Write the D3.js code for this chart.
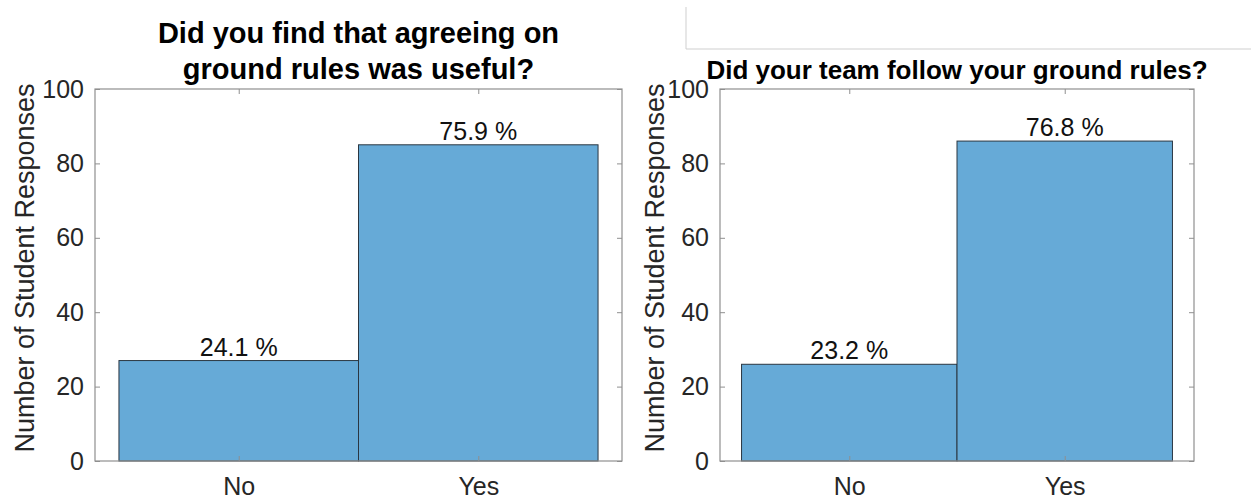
<!DOCTYPE html>
<html>
<head>
<meta charset="utf-8">
<script src="https://cdn.jsdelivr.net/npm/d3@7"></script>
<style>
  body { margin: 0; background: #fff; }
  text { font-family: "Liberation Sans", Arial, Helvetica, sans-serif; }
</style>
</head>
<body>
<div id="chartContainer"></div>
<script>
var categories = ["No", "Yes"];
var usefulCounts = [27, 85];
var followedCounts = [26, 86];
var yTicks = [0, 20, 40, 60, 80, 100];
var usefulTitle = ["Did you find that agreeing on", "ground rules was useful?"];
var followedTitle = ["Did your team follow your ground rules?"];
var yLabel = "Number of Student Responses";

function drawPanel(svg, opt) {
    var x = d3.scaleLinear().domain([0.4, 2.6]).range([opt.left, opt.right]);
    var y = d3.scaleLinear().domain([0, 100]).range([opt.bottom, opt.top]);
    var total = d3.sum(opt.counts);
    var fmt = d3.format(".1f");
    var g = svg.append("g");

    // bars (histogram style, touching)
    g.selectAll("rect.bar")
        .data(opt.counts)
        .enter()
        .append("rect")
        .attr("class", "bar")
        .attr("x", function(d, i) { return x(i + 0.5); })
        .attr("width", function(d, i) { return x(i + 1.5) - x(i + 0.5); })
        .attr("y", function(d) { return y(d); })
        .attr("height", function(d) { return y(0) - y(d); })
        .attr("fill", "#66aad7")
        .attr("stroke", "#2a3641")
        .attr("stroke-width", 1);

    // percent labels
    g.selectAll("text.pct")
        .data(opt.counts)
        .enter()
        .append("text")
        .attr("class", "pct")
        .attr("x", function(d, i) { return x(i + 1); })
        .attr("y", function(d) { return y(d) - 5; })
        .attr("text-anchor", "middle")
        .attr("font-size", 25)
        .attr("fill", "#111")
        .text(function(d) { return fmt(d / total * 100) + " %"; });

    // box
    g.append("rect")
        .attr("x", opt.left)
        .attr("y", opt.top)
        .attr("width", opt.right - opt.left)
        .attr("height", opt.bottom - opt.top)
        .attr("fill", "none")
        .attr("stroke", "#8f8f8f")
        .attr("stroke-width", 1.2);

    // y ticks inside on both sides
    var yAxisL = d3.axisLeft(y).tickValues(yTicks).tickSizeInner(-5).tickSizeOuter(0).tickPadding(11);
    var gy = g.append("g").attr("transform", "translate(" + opt.left + ",0)").call(yAxisL);
    gy.select(".domain").remove();
    gy.selectAll("line").attr("stroke", "#8f8f8f");
    gy.selectAll("text").attr("font-size", 25).attr("fill", "#262626")
        .style("font-family", '"Liberation Sans", Arial, sans-serif');

    var yAxisR = d3.axisRight(y).tickValues(yTicks).tickSizeInner(-5).tickSizeOuter(0).tickFormat("");
    var gyr = g.append("g").attr("transform", "translate(" + opt.right + ",0)").call(yAxisR);
    gyr.select(".domain").remove();
    gyr.selectAll("line").attr("stroke", "#8f8f8f");

    // x ticks at categories, bottom and top
    var xAxisB = d3.axisBottom(x).tickValues([1, 2]).tickSizeInner(-5).tickSizeOuter(0)
        .tickPadding(16).tickFormat(function(d) { return categories[d - 1]; });
    var gx = g.append("g").attr("transform", "translate(0," + opt.bottom + ")").call(xAxisB);
    gx.select(".domain").remove();
    gx.selectAll("line").attr("stroke", "#8f8f8f");
    gx.selectAll("text").attr("font-size", 25).attr("fill", "#262626")
        .style("font-family", '"Liberation Sans", Arial, sans-serif');

    var xAxisT = d3.axisTop(x).tickValues([1, 2]).tickSizeInner(-5).tickSizeOuter(0).tickFormat("");
    var gxt = g.append("g").attr("transform", "translate(0," + opt.top + ")").call(xAxisT);
    gxt.select(".domain").remove();
    gxt.selectAll("line").attr("stroke", "#8f8f8f");

    // y label
    g.append("text")
        .attr("transform", "translate(" + opt.ylabelX + "," + ((opt.top + opt.bottom) / 2 - 7) + ") rotate(-90)")
        .attr("text-anchor", "middle")
        .attr("font-size", 27)
        .attr("fill", "#262626")
        .text(yLabel);

    // title
    var cx = (opt.left + opt.right) / 2;
    g.selectAll("text.title")
        .data(opt.title)
        .enter()
        .append("text")
        .attr("class", "title")
        .attr("x", cx)
        .attr("y", function(d, i) { return opt.titleY + i * 36; })
        .attr("text-anchor", "middle")
        .attr("font-size", opt.titleSize)
        .attr("font-weight", "bold")
        .attr("fill", "#000")
        .text(function(d) { return d; });
}

function init() {
    var ww = 1251;
    var h = 500;
    var svg = d3.select("#chartContainer")
        .append("svg")
        .attr("width", ww)
        .attr("height", h);

    // faint frame at top right
    svg.append("path")
        .attr("d", d3.line()([[686, 7], [686, 49], [ww, 49]]))
        .attr("fill", "none")
        .attr("stroke", "#cfcfcf")
        .attr("stroke-width", 1);

    drawPanel(svg, {
        left: 95, right: 622, top: 89, bottom: 461,
        counts: usefulCounts, title: usefulTitle,
        titleY: 43, titleSize: 29, ylabelX: 34
    });
    drawPanel(svg, {
        left: 720, right: 1194, top: 89, bottom: 461,
        counts: followedCounts, title: followedTitle,
        titleY: 79, titleSize: 26, ylabelX: 664
    });
}

window.onload = init;
</script>
</body>
</html>
